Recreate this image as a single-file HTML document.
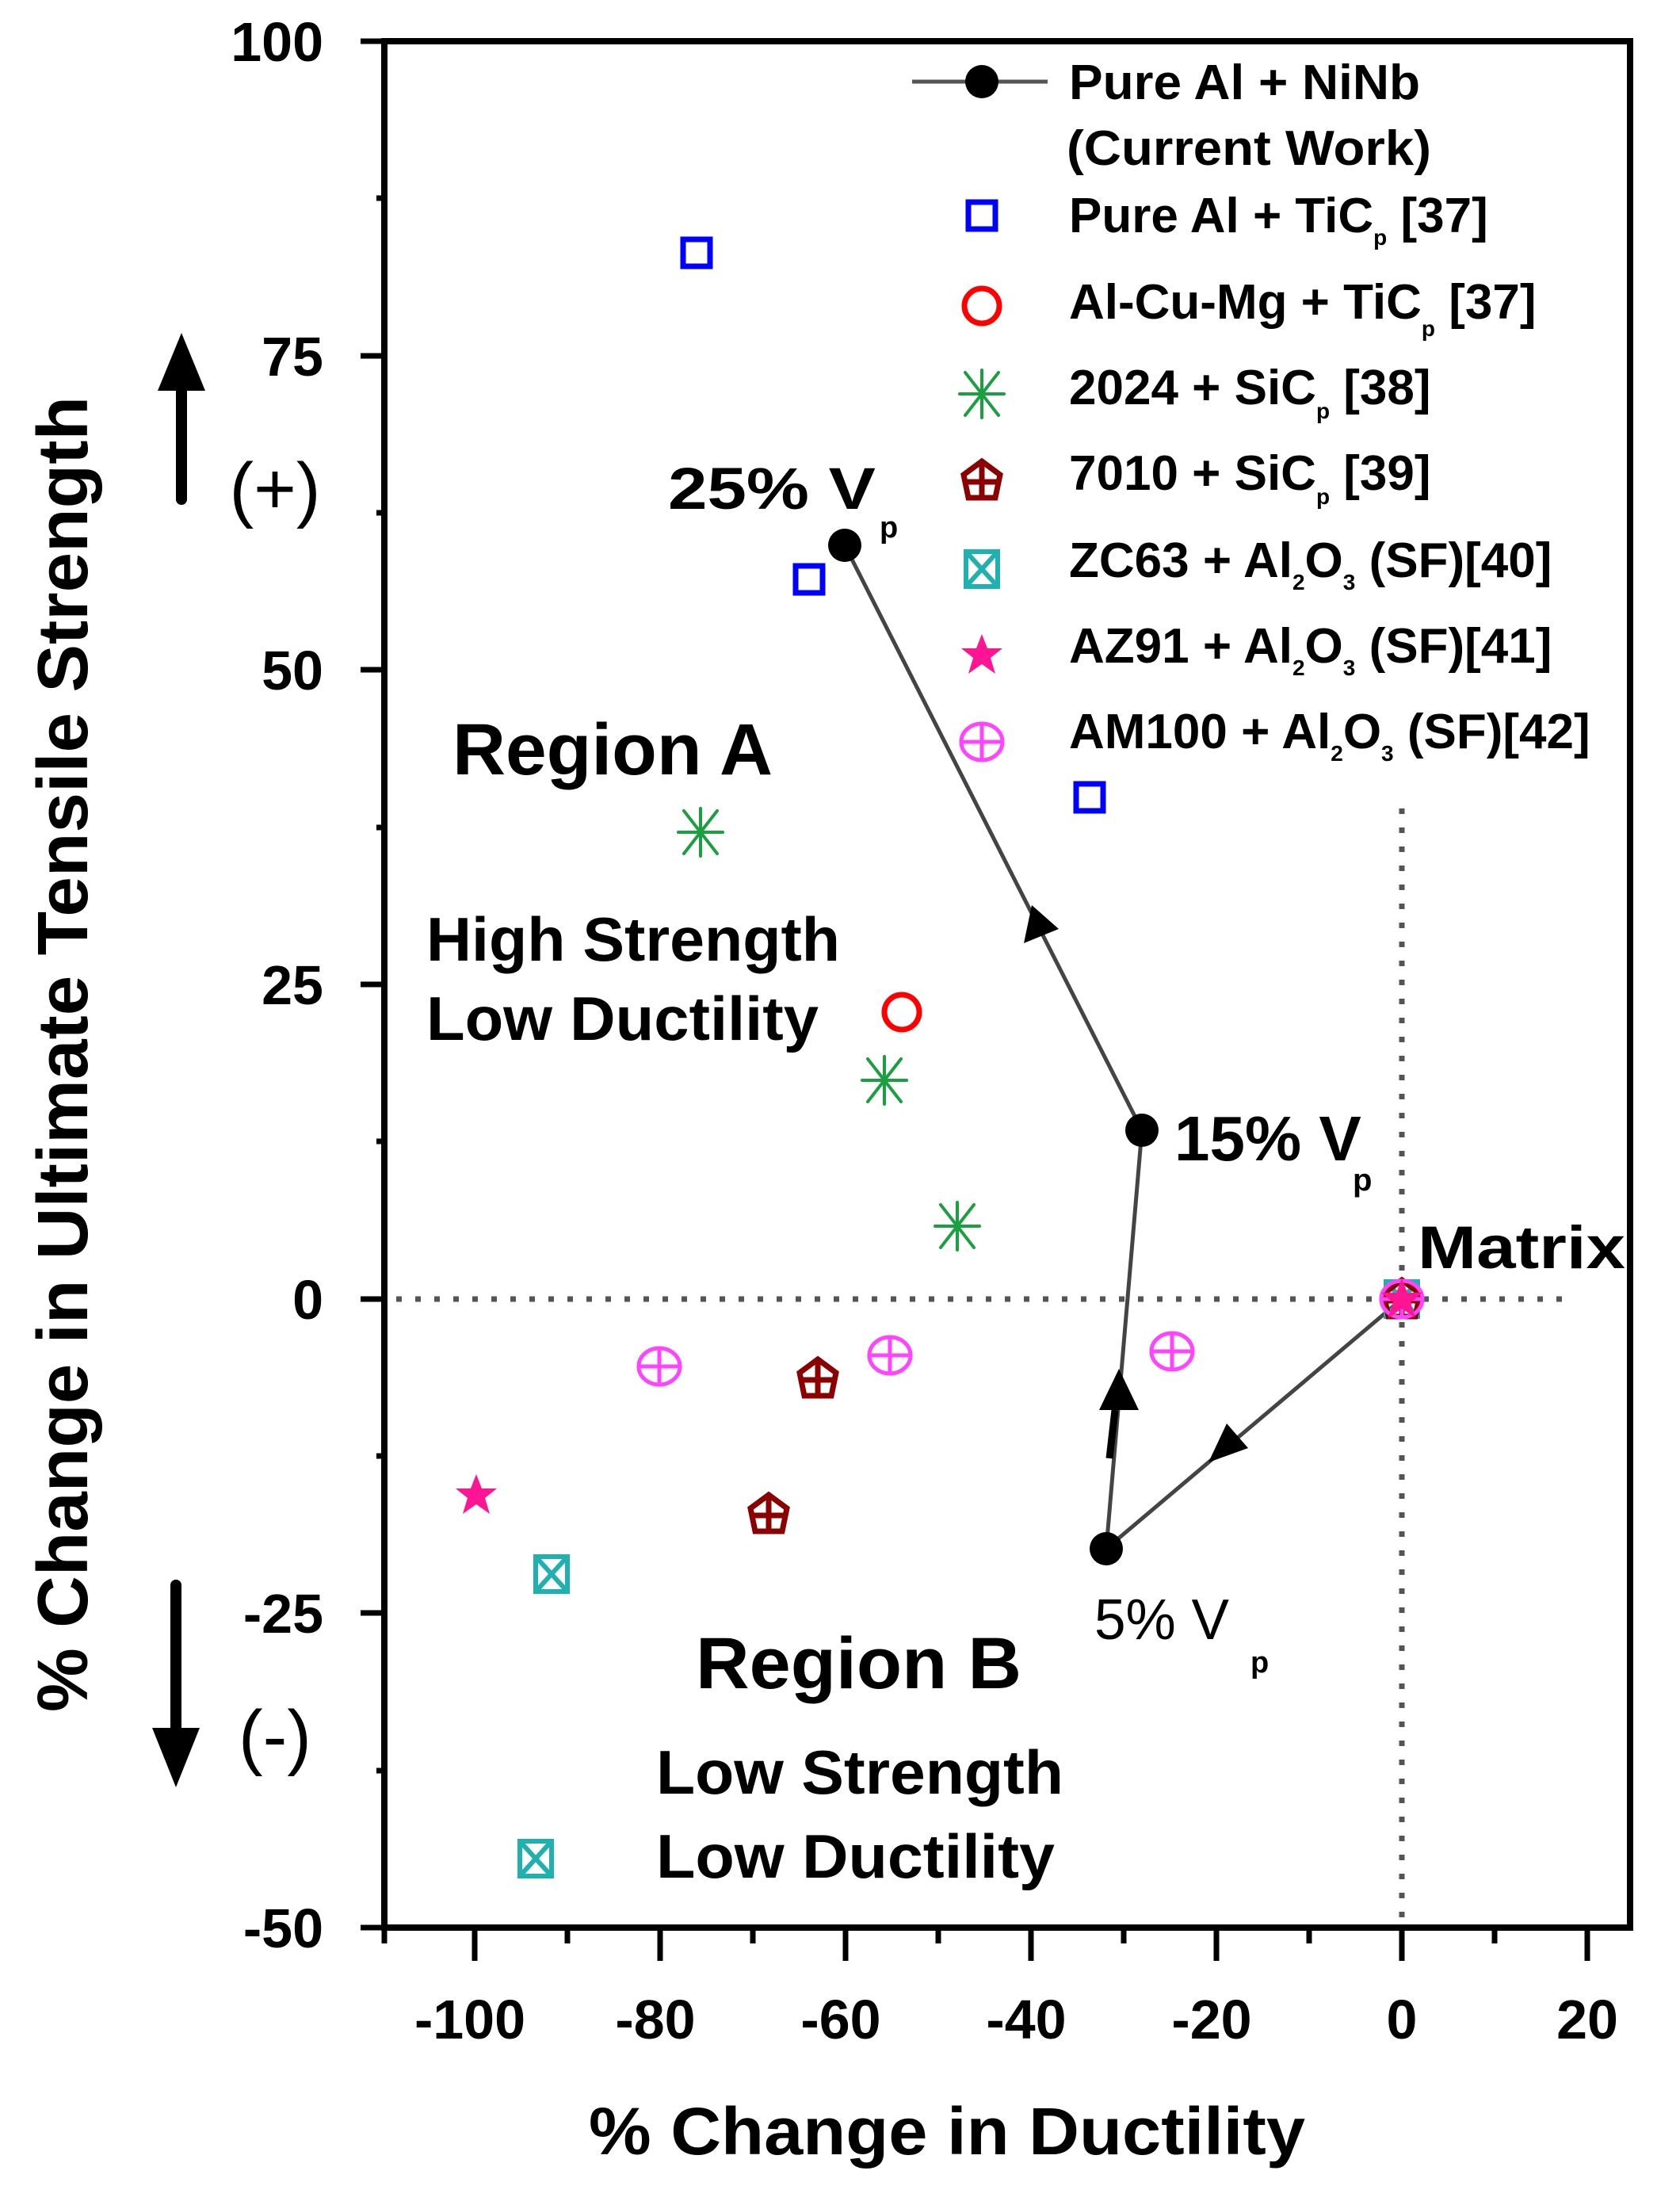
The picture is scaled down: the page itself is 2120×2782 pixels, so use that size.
<!DOCTYPE html>
<html><head><meta charset="utf-8"><style>
html,body{margin:0;padding:0;background:#fff;}
svg{display:block;}
text{font-family:"Liberation Sans",Arial,sans-serif;font-weight:bold;fill:#000;}
</style></head><body>
<svg width="2120" height="2782" viewBox="0 0 2120 2782" xmlns="http://www.w3.org/2000/svg">
<defs>
<g id="sq"><rect x="-17" y="-17" width="34" height="34" fill="none" stroke="#0000ff" stroke-width="7"/></g>
<g id="rc"><circle r="22" fill="none" stroke="#ff0000" stroke-width="7"/></g>
<g id="gs" stroke="#1aa040" stroke-width="4" stroke-linecap="round"><line x1="-28" y1="0" x2="28" y2="0"/><line x1="0" y1="-30" x2="0" y2="30"/><line x1="-21" y1="-27" x2="21" y2="27"/><line x1="-21" y1="27" x2="21" y2="-27"/></g>
<g id="dr" stroke="#8b0000" fill="none" stroke-width="7"><polygon points="0,-24 23,-7 17,22 -17,22 -23,-7"/><line x1="-22" y1="2" x2="22" y2="2"/><line x1="0" y1="-24" x2="0" y2="22"/></g>
<g id="cy" stroke="#20b0b0" fill="none" stroke-width="6"><rect x="-20" y="-22" width="40" height="44"/><line x1="-20" y1="-22" x2="20" y2="22"/><line x1="20" y1="-22" x2="-20" y2="22"/></g>
<g id="ps"><polygon fill="#ff1493" points="0,-26 7,-8 26,-8 11,4 17,24 0,12 -17,24 -11,4 -26,-8 -7,-8"/></g>
<g id="mg" stroke="#ff44ff" fill="none" stroke-width="5"><ellipse rx="26" ry="23"/><line x1="-26" y1="0" x2="26" y2="0"/><line x1="0" y1="-23" x2="0" y2="23"/></g>
<g id="bk"><circle r="21" fill="#000"/></g>
</defs>

<line x1="500" y1="1639" x2="1980" y2="1639" stroke="#555" stroke-width="7" stroke-dasharray="7 17"/>
<line x1="1769" y1="1020" x2="1769" y2="2425" stroke="#555" stroke-width="7" stroke-dasharray="7 17"/>

<rect x="485" y="52" width="1572" height="2380" fill="none" stroke="#000" stroke-width="8"/>

<g stroke="#000" stroke-width="7">
<line x1="599" y1="2432" x2="599" y2="2474"/><line x1="833" y1="2432" x2="833" y2="2474"/><line x1="1067" y1="2432" x2="1067" y2="2474"/><line x1="1301" y1="2432" x2="1301" y2="2474"/><line x1="1535" y1="2432" x2="1535" y2="2474"/><line x1="1769" y1="2432" x2="1769" y2="2474"/><line x1="2003" y1="2432" x2="2003" y2="2474"/>
<line x1="485" y1="2432" x2="485" y2="2452"/><line x1="716" y1="2432" x2="716" y2="2452"/><line x1="950" y1="2432" x2="950" y2="2452"/><line x1="1184" y1="2432" x2="1184" y2="2452"/><line x1="1418" y1="2432" x2="1418" y2="2452"/><line x1="1652" y1="2432" x2="1652" y2="2452"/><line x1="1886" y1="2432" x2="1886" y2="2452"/>
<line x1="455" y1="52" x2="485" y2="52"/><line x1="455" y1="449" x2="485" y2="449"/><line x1="455" y1="845" x2="485" y2="845"/><line x1="455" y1="1242" x2="485" y2="1242"/><line x1="455" y1="1639" x2="485" y2="1639"/><line x1="455" y1="2035" x2="485" y2="2035"/><line x1="455" y1="2432" x2="485" y2="2432"/>
<line x1="475" y1="250" x2="485" y2="250"/><line x1="475" y1="647" x2="485" y2="647"/><line x1="475" y1="1044" x2="485" y2="1044"/><line x1="475" y1="1440" x2="485" y2="1440"/><line x1="475" y1="1837" x2="485" y2="1837"/><line x1="475" y1="2234" x2="485" y2="2234"/>
</g>

<g font-size="70" text-anchor="end">
<text x="408" y="77">100</text><text x="408" y="474">75</text><text x="408" y="870">50</text><text x="408" y="1267">25</text><text x="408" y="1664">0</text><text x="408" y="2060">-25</text><text x="408" y="2457">-50</text>
</g>
<g font-size="70" text-anchor="middle">
<text x="593" y="2572">-100</text><text x="827" y="2572">-80</text><text x="1061" y="2572">-60</text><text x="1295" y="2572">-40</text><text x="1529" y="2572">-20</text><text x="1769" y="2572">0</text><text x="2003" y="2572">20</text>
</g>

<text x="743" y="2718" font-size="84" textLength="904" lengthAdjust="spacingAndGlyphs">% Change in Ductility</text>
<text transform="translate(110,2160) rotate(-90)" font-size="90" textLength="1660" lengthAdjust="spacingAndGlyphs">% Change in Ultimate Tensile Strength</text>

<line x1="229" y1="480" x2="229" y2="630" stroke="#000" stroke-width="14" stroke-linecap="round"/>
<polygon points="229,420 259,493 199,493" fill="#000"/>
<text x="347" y="648" font-size="92" text-anchor="middle" style="font-weight:normal">(+)</text>
<line x1="222" y1="2000" x2="222" y2="2180" stroke="#000" stroke-width="14" stroke-linecap="round"/>
<polygon points="222,2255 252,2180 192,2180" fill="#000"/>
<text x="347" y="2222" font-size="92" text-anchor="middle" style="font-weight:normal">(-)</text>

<text x="571" y="977" font-size="92" textLength="404" lengthAdjust="spacingAndGlyphs">Region A</text>
<text x="538" y="1212" font-size="78" textLength="522" lengthAdjust="spacingAndGlyphs">High Strength</text>
<text x="538" y="1312" font-size="78" textLength="495" lengthAdjust="spacingAndGlyphs">Low Ductility</text>
<text x="878" y="2130" font-size="92" textLength="411" lengthAdjust="spacingAndGlyphs">Region B</text>
<text x="828" y="2263" font-size="78" textLength="514" lengthAdjust="spacingAndGlyphs">Low Strength</text>
<text x="828" y="2369" font-size="78" textLength="503" lengthAdjust="spacingAndGlyphs">Low Ductility</text>

<g stroke="#444" stroke-width="5" fill="none">
<polyline points="1769,1639 1396,1954 1441,1426 1066,688"/>
</g>
<line x1="1407" y1="1779" x2="1400" y2="1840" stroke="#000" stroke-width="9"/>
<polygon points="1412,1727 1437,1779 1387,1779" fill="#000"/>
<polygon points="1525,1845 1548,1796 1575,1827" fill="#000"/>
<polygon points="1302,1142 1336,1172 1292,1190" fill="#000"/>

<use href="#sq" x="879" y="319"/><use href="#sq" x="1021" y="731"/><use href="#sq" x="1375" y="1006"/>
<use href="#rc" x="1138" y="1277"/>
<use href="#gs" x="884" y="1050"/><use href="#gs" x="1116" y="1363"/><use href="#gs" x="1208" y="1547"/>
<use href="#dr" x="1032" y="1739"/><use href="#dr" x="970" y="1910"/>
<use href="#cy" x="696" y="1986"/><use href="#cy" x="676" y="2345"/>
<use href="#ps" x="601" y="1886"/>
<use href="#mg" x="832" y="1724"/><use href="#mg" x="1123" y="1710"/><use href="#mg" x="1479" y="1705"/>
<use href="#cy" x="1769" y="1639"/><use href="#dr" x="1769" y="1639"/><use href="#mg" x="1769" y="1639"/><use href="#ps" x="1769" y="1639"/>
<use href="#bk" x="1066" y="688"/><use href="#bk" x="1441" y="1426"/><use href="#bk" x="1396" y="1954"/>

<text x="843" y="642" font-size="74" textLength="262" lengthAdjust="spacingAndGlyphs">25% V</text>
<text x="1110" y="678" font-size="38">p</text>
<text x="1482" y="1464" font-size="80">15% V</text>
<text x="1707" y="1502" font-size="40">p</text>
<text x="1381" y="2068" font-size="72" style="font-weight:normal" textLength="170" lengthAdjust="spacingAndGlyphs">5% V</text>
<text x="1578" y="2110" font-size="38">p</text>
<text x="1789" y="1600" font-size="76" textLength="262" lengthAdjust="spacingAndGlyphs">Matrix</text>

<line x1="1151" y1="103" x2="1322" y2="103" stroke="#555" stroke-width="5"/>
<use href="#bk" x="1239" y="103"/>
<use href="#sq" x="1239" y="272"/>
<use href="#rc" x="1239" y="386"/>
<use href="#gs" x="1239" y="497"/>
<use href="#dr" x="1239" y="606"/>
<use href="#cy" x="1239" y="718"/>
<use href="#ps" x="1239" y="826"/>
<use href="#mg" x="1239" y="936"/>
<g font-size="62">
<text x="1349" y="125" textLength="443" lengthAdjust="spacingAndGlyphs">Pure Al + NiNb</text>
<text x="1346" y="208" textLength="460" lengthAdjust="spacingAndGlyphs">(Current Work)</text>
<text x="1349" y="293">Pure Al + TiC<tspan font-size="28" dy="16">p</tspan><tspan dy="-16"> [37]</tspan></text>
<text x="1349" y="402">Al-Cu-Mg + TiC<tspan font-size="28" dy="22">p</tspan><tspan dy="-22"> [37]</tspan></text>
<text x="1349" y="510">2024 + SiC<tspan font-size="28" dy="18">p</tspan><tspan dy="-18"> [38]</tspan></text>
<text x="1349" y="618">7010 + SiC<tspan font-size="28" dy="18">p</tspan><tspan dy="-18"> [39]</tspan></text>
<text x="1349" y="728">ZC63 + Al<tspan font-size="28" dy="16">2</tspan><tspan dy="-16">O</tspan><tspan font-size="28" dy="16">3</tspan><tspan dy="-16"> (SF)[40]</tspan></text>
<text x="1349" y="836">AZ91 + Al<tspan font-size="28" dy="16">2</tspan><tspan dy="-16">O</tspan><tspan font-size="28" dy="16">3</tspan><tspan dy="-16"> (SF)[41]</tspan></text>
<text x="1349" y="944">AM100 + Al<tspan font-size="28" dy="16">2</tspan><tspan dy="-16">O</tspan><tspan font-size="28" dy="16">3</tspan><tspan dy="-16"> (SF)[42]</tspan></text>
</g>
</svg>
</body></html>
